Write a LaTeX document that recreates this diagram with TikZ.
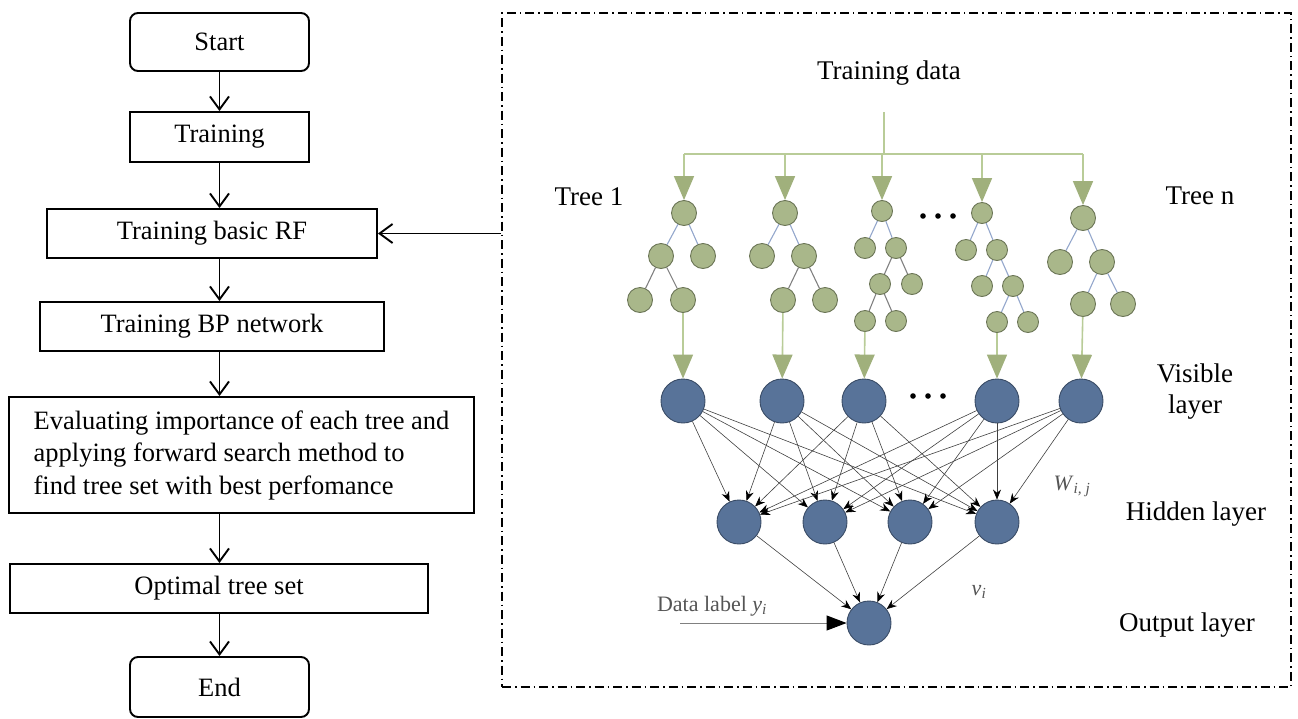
\documentclass[tikz,border=0pt]{standalone}
\usepackage{fontspec}
\setmainfont{Liberation Serif}
\usetikzlibrary{arrows.meta}
\definecolor{treefill}{HTML}{A9B78A}
\definecolor{treedraw}{HTML}{6B7556}
\definecolor{treeedge}{HTML}{94A7CC}
\definecolor{grn}{HTML}{B9CC98}
\definecolor{grnhead}{HTML}{A0B07C}
\definecolor{nnfill}{HTML}{587399}
\definecolor{nndraw}{HTML}{3A4C66}
\definecolor{lblgray}{HTML}{555555}
\newcommand{\itsub}[2]{\textit{#1}\textsubscript{\textit{#2}}}
\begin{document}
\begin{tikzpicture}[x=1pt,y=-1pt,
  fbox/.style={draw,line width=1.9pt,inner sep=0pt,align=center,font=\fontsize{26.5}{32}\selectfont},
  rbox/.style={fbox,rounded corners=8pt},
  farrow/.style={draw,line width=1.9pt,-{Straight Barb[length=13pt,width=19pt,line width=1.9pt]}},
  lbl/.style={font=\fontsize{27}{31}\selectfont,inner sep=0pt,align=center},
  glbl/.style={font=\fontsize{22}{25}\selectfont,text=lblgray,inner sep=0pt},
  tn/.style={circle,draw=treedraw,fill=treefill,line width=0.9pt,minimum size=25pt,inner sep=0pt},
  tns/.style={tn,minimum size=21pt},
  tedge/.style={draw=treeedge,line width=1.1pt},
  garrow/.style={draw=grn,line width=1.6pt,-{Triangle[length=24pt,width=20pt,fill=grnhead,color=grnhead]}},
  gline/.style={draw=grn,line width=1.6pt},
  nn/.style={circle,draw=nndraw,fill=nnfill,line width=0.9pt,minimum size=44pt,inner sep=0pt},
  nnedge/.style={draw=black!75,line width=0.6pt,-{Stealth[length=10pt,width=8pt,color=black]}},
]
\useasboundingbox (0,0) rectangle (1298,718);

% ---------------- flowchart ----------------
\node[rbox,minimum width=179pt,minimum height=58pt] (start) at (219.5,42) {Start};
\node[fbox,minimum width=179pt,minimum height=50pt] (train) at (219.5,137) {Training};
\node[fbox,minimum width=330pt,minimum height=49pt] (rf) at (212,233.5) {Training basic RF};
\node[fbox,minimum width=344pt,minimum height=49pt] (bp) at (212,326.5) {Training BP network};
\node[fbox,minimum width=465pt,minimum height=116pt,align=left,font=\fontsize{26.5}{32.5}\selectfont] (eval) at (241.5,455)
  {Evaluating importance of each tree and\\applying forward search method to\\find tree set with best perfomance};
\node[fbox,minimum width=418pt,minimum height=49pt] (opt) at (219,588.5) {Optimal tree set};
\node[rbox,minimum width=179pt,minimum height=60pt] (end) at (219.5,687) {End};

\draw[farrow] (start.south) -- (train.north);
\draw[farrow] (train.south) -- (train.south |- rf.north);
\draw[farrow] (train.south |- rf.south) -- (train.south |- bp.north);
\draw[farrow] (train.south |- bp.south) -- (train.south |- eval.north);
\draw[farrow] (train.south |- eval.south) -- (train.south |- opt.north);
\draw[farrow] (train.south |- opt.south) -- (end.north);

% ---------------- panel ----------------
\node[draw,line width=1.6pt,dash pattern=on 9pt off 4pt on 1.5pt off 4pt,minimum width=789pt,minimum height=674pt,inner sep=0pt] (panel) at (896.5,350) {};
\draw[farrow] (rf.east -| panel.west) -- (rf.east);

% labels
\node[lbl] (tdata) at (889,73) {Training data};
\node[lbl] (tree1) at (589,197) {Tree 1};
\node[lbl] (treen) at (1200,196) {Tree n};
\node[lbl] (vis) at (1195,392) {Visible\\layer};
\node[lbl] (hid) at (1196,514) {Hidden layer};
\node[lbl] (outl) at (1187,625) {Output layer};
\node[glbl] (wij) at (1072,486) {\itsub{W}{i, j}};
\node[glbl] (vi) at (979,592) {\itsub{v}{i}};
\node[glbl] (dlab) at (712,606) {Data label \itsub{y}{i}};

% ---------------- trees ----------------
% tree 1
\node[tn] (t1r) at (684,213) {};
\node[tn] (t1a) at (661,256) {};
\node[tn] (t1b) at (703,256) {};
\node[tn] (t1c) at (640,300) {};
\node[tn] (t1d) at (683,300) {};
\draw[tedge] (t1r) -- (t1a); \draw[tedge] (t1r) -- (t1b);
\draw[tedge,draw=gray] (t1a) -- (t1c); \draw[tedge,draw=gray] (t1a) -- (t1d);
% tree 2
\node[tn] (t2r) at (785,213) {};
\node[tn] (t2a) at (762,256) {};
\node[tn] (t2b) at (804,256) {};
\node[tn] (t2c) at (783,300) {};
\node[tn] (t2d) at (825,300) {};
\draw[tedge] (t2r) -- (t2a); \draw[tedge] (t2r) -- (t2b);
\draw[tedge,draw=gray] (t2b) -- (t2c); \draw[tedge,draw=gray] (t2b) -- (t2d);
% tree 3
\node[tns] (t3r) at (882,211) {};
\node[tns] (t3a) at (865,248) {};
\node[tns] (t3b) at (896,248) {};
\node[tns] (t3c) at (880,284) {};
\node[tns] (t3d) at (912,284) {};
\node[tns] (t3e) at (865,321) {};
\node[tns] (t3f) at (896,321) {};
\draw[tedge] (t3r) -- (t3a); \draw[tedge] (t3r) -- (t3b);
\draw[tedge,draw=gray] (t3b) -- (t3c); \draw[tedge,draw=gray] (t3b) -- (t3d);
\draw[tedge,draw=gray] (t3c) -- (t3e); \draw[tedge,draw=gray] (t3c) -- (t3f);
% tree 4
\node[tns] (t4r) at (982,213) {};
\node[tns] (t4a) at (966,250) {};
\node[tns] (t4b) at (997,250) {};
\node[tns] (t4c) at (982,286) {};
\node[tns] (t4d) at (1013,286) {};
\node[tns] (t4e) at (997,322) {};
\node[tns] (t4f) at (1028,322) {};
\draw[tedge] (t4r) -- (t4a); \draw[tedge] (t4r) -- (t4b);
\draw[tedge] (t4b) -- (t4c); \draw[tedge] (t4b) -- (t4d);
\draw[tedge] (t4d) -- (t4e); \draw[tedge] (t4d) -- (t4f);
% tree 5
\node[tn] (t5r) at (1083,218) {};
\node[tn] (t5a) at (1060,262) {};
\node[tn] (t5b) at (1102,262) {};
\node[tn] (t5c) at (1083,304) {};
\node[tn] (t5d) at (1123,304) {};
\draw[tedge] (t5r) -- (t5a); \draw[tedge] (t5r) -- (t5b);
\draw[tedge] (t5b) -- (t5c); \draw[tedge] (t5b) -- (t5d);

% dots between trees
\foreach \x in {923,938,953} \fill (\x,216) circle (2.8pt);

% training data distribution
\coordinate (trunk) at (884,112);
\coordinate (bar) at (884,154);
\draw[gline] (trunk) -- (bar);
\draw[gline] (t1r |- bar) -- (t5r |- bar);
\foreach \t in {t1r,t2r,t3r,t4r,t5r} \draw[garrow] (\t |- bar) -- (\t.north);

% ---------------- network ----------------
\node[nn] (v1) at (683,401) {};
\node[nn] (v2) at (782,401) {};
\node[nn] (v3) at (864,401) {};
\node[nn] (v4) at (997,401) {};
\node[nn] (v5) at (1081,401) {};
\foreach \x in {913,928,943} \fill (\x,396) circle (2.8pt);
\node[nn] (h1) at (739,522) {};
\node[nn] (h2) at (825,522) {};
\node[nn] (h3) at (910,522) {};
\node[nn] (h4) at (997,522) {};
\node[nn] (o) at (869,623) {};

% tree outputs to visible layer
\draw[garrow] (t1d) -- (v1);
\draw[garrow] (t2c) -- (v2);
\draw[garrow] (t3e) -- (v3);
\draw[garrow] (t4e) -- (v4);
\draw[garrow] (t5c) -- (v5);

\foreach \i in {1,...,5}
  \foreach \j in {1,...,4}
    \draw[nnedge] (v\i) -- (h\j);
\foreach \j in {1,...,4}
  \draw[nnedge] (h\j) -- (o);

\coordinate (dstart) at (680,623);
\draw[draw=gray,line width=1pt,-{Triangle[length=20pt,width=15pt,color=black]}] (dstart) -- (o.west);
\end{tikzpicture}
\end{document}
